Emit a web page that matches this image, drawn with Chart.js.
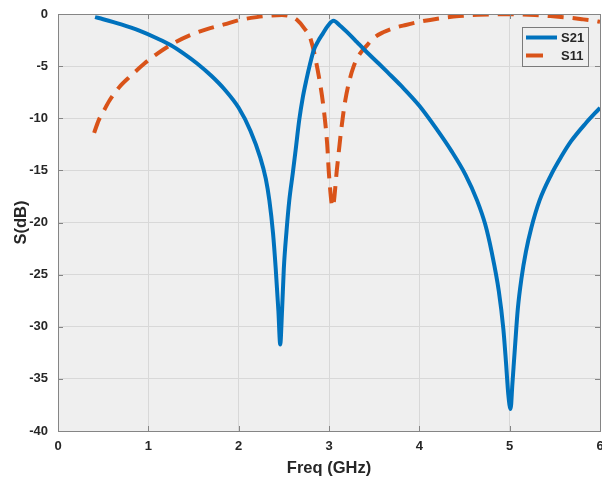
<!DOCTYPE html>
<html>
<head>
<meta charset="utf-8">
<script src="https://cdn.jsdelivr.net/npm/chart.js@4"></script>
<style>
  html, body { margin: 0; padding: 0; background: #fff; overflow: hidden; }
  #wrap { width: 612px; height: 479px; }
</style>
</head>
<body>
<div id="wrap"><canvas id="sparams" width="612" height="479"></canvas></div>
<script>
// values
const s21Freq = [0.41, 0.5, 0.7, 0.9, 1.1, 1.25, 1.4, 1.54, 1.7, 1.84, 2.0, 2.13, 2.24, 2.30, 2.34, 2.38,
  2.41, 2.44, 2.46, 2.48, 2.50, 2.53, 2.56, 2.60, 2.63, 2.67, 2.71, 2.75, 2.79, 2.83, 2.88, 2.93,
  2.99, 3.05, 3.12, 3.22, 3.31, 3.40, 3.55, 3.65, 3.8, 4.0, 4.18, 4.36, 4.51, 4.64, 4.73,
  4.80, 4.88, 4.93, 4.96, 4.985, 5.01, 5.03, 5.06, 5.09, 5.13, 5.18, 5.24, 5.33,
  5.46, 5.57, 5.68, 5.84, 6.0];
const s21dB = [-0.3, -0.5, -1.0, -1.6, -2.35, -3.0, -3.85, -4.75, -5.95, -7.2, -9.0, -11.2, -13.8, -15.8, -17.9, -21.0,
  -24.4, -28.5, -31.7, -28.5, -24.4, -20.8, -17.9, -15.2, -13.1, -10.2, -8.0, -6.3, -4.8, -3.5, -2.6, -1.9,
  -1.1, -0.65, -1.1, -1.9, -2.7, -3.5, -4.75, -5.6, -6.9, -8.8, -10.9, -13.2, -15.4, -17.9, -20.2,
  -22.8, -26.6, -30.2, -33.5, -36.5, -37.9, -35.5, -31.8, -28.3, -25.4, -22.8, -20.5, -17.9,
  -15.4, -13.7, -12.2, -10.5, -9.0];

const s11Freq = [0.40, 0.45, 0.5, 0.57, 0.68, 0.81, 0.95, 1.10, 1.28, 1.47, 1.65, 1.84, 2.0, 2.20, 2.35,
  2.48, 2.58, 2.65, 2.72, 2.80, 2.89, 2.94, 2.98, 3.00, 3.04, 3.09, 3.13, 3.18, 3.27, 3.44, 3.51,
  3.6, 3.7, 3.85, 4.0, 4.2, 4.44, 4.65, 4.89, 5.1, 5.28, 5.45, 5.65, 5.8, 5.94, 6.0];
const s11dB = [-11.4, -10.2, -9.4, -8.3, -7.0, -5.9, -4.8, -3.8, -2.8, -2.0, -1.45, -1.0, -0.6, -0.3, -0.15,
  -0.1, -0.25, -0.6, -1.3, -2.5, -6.1, -9.0, -12.5, -15.4, -18.5, -14.7, -11.5, -8.3, -5.1, -2.8, -2.2,
  -1.75, -1.4, -1.05, -0.75, -0.45, -0.2, -0.08, -0.02, -0.04, -0.1, -0.2, -0.35, -0.5, -0.66, -0.75];

const xTicks = [0, 1, 2, 3, 4, 5, 6];
const yTicks = [-40, -35, -30, -25, -20, -15, -10, -5, 0];

const BLUE = '#0072BD';
const ORANGE = '#D95319';
const TEXT = '#262626';
const FONT = '"Liberation Sans", Arial, sans-serif';

function toPoints(xs, ys) {
  return xs.map((x, i) => ({ x: x, y: ys[i] }));
}

// grey plot background, box, inward ticks and the legend box
const matlabAxes = {
  id: 'matlabAxes',
  beforeDraw(chart) {
    const a = chart.chartArea;
    const ctx = chart.ctx;
    ctx.save();
    ctx.fillStyle = '#efefef';
    ctx.fillRect(a.left, a.top, a.right - a.left, a.bottom - a.top);
    ctx.restore();
  },
  afterDraw(chart) {
    const a = chart.chartArea;
    const ctx = chart.ctx;
    const xs = chart.scales.x, ys = chart.scales.y;
    ctx.save();
    ctx.strokeStyle = '#858585';
    ctx.lineWidth = 1;
    ctx.beginPath();
    xTicks.forEach(v => {
      const px = Math.round(xs.getPixelForValue(v)) + 0.5;
      ctx.moveTo(px, a.bottom); ctx.lineTo(px, a.bottom - 5);
      ctx.moveTo(px, a.top); ctx.lineTo(px, a.top + 5);
    });
    yTicks.forEach(v => {
      const py = Math.round(ys.getPixelForValue(v)) + 0.5;
      ctx.moveTo(a.left, py); ctx.lineTo(a.left + 5, py);
      ctx.moveTo(a.right, py); ctx.lineTo(a.right - 5, py);
    });
    ctx.stroke();
    ctx.strokeRect(Math.round(a.left) + 0.5, Math.round(a.top) + 0.5,
      Math.round(a.right - a.left), Math.round(a.bottom - a.top));

    // legend
    const lx = 522, ly = 27, lw = 66, lh = 39;
    ctx.fillStyle = '#efefef';
    ctx.fillRect(lx, ly, lw, lh);
    ctx.strokeStyle = '#7a7a7a';
    ctx.strokeRect(lx + 0.5, ly + 0.5, lw, lh);
    ctx.lineWidth = 4;
    ctx.strokeStyle = BLUE;
    ctx.beginPath(); ctx.moveTo(526, 37.5); ctx.lineTo(557, 37.5); ctx.stroke();
    ctx.strokeStyle = ORANGE;
    ctx.beginPath(); ctx.moveTo(526, 55.5); ctx.lineTo(543, 55.5); ctx.stroke();
    ctx.fillStyle = TEXT;
    ctx.font = 'bold 13px ' + FONT;
    ctx.textBaseline = 'middle';
    ctx.textAlign = 'left';
    ctx.fillText('S21', 561, 38);
    ctx.fillText('S11', 561, 56);
    ctx.restore();
  }
};

const chart = new Chart(document.getElementById('sparams'), {
  type: 'line',
  data: {
    datasets: [{
      label: 'S21',
      data: toPoints(s21Freq, s21dB),
      borderColor: BLUE,
      borderWidth: 4,
      pointRadius: 0,
      cubicInterpolationMode: 'monotone',
      borderCapStyle: 'butt'
    }, {
      label: 'S11',
      data: toPoints(s11Freq, s11dB),
      borderColor: ORANGE,
      borderWidth: 4,
      borderDash: [16, 9],
      pointRadius: 0,
      cubicInterpolationMode: 'monotone',
      borderCapStyle: 'butt'
    }]
  },
  options: {
    responsive: false,
    animation: false,
    layout: { autoPadding: false, padding: { top: 14, right: 12, left: 0, bottom: 0 } },
    plugins: {
      legend: { display: false },
      tooltip: { enabled: false }
    },
    scales: {
      x: {
        type: 'linear',
        min: 0,
        max: 6,
        afterBuildTicks: s => { s.ticks = xTicks.map(v => ({ value: v })); },
        afterFit: s => { s.height = 48; s.paddingLeft = 0; s.paddingRight = 0; },
        grid: { color: '#d8d8d8', drawTicks: false },
        border: { display: false },
        ticks: { color: TEXT, padding: 8, maxRotation: 0, font: { family: FONT, size: 13, weight: 'bold' } },
        title: {
          display: true,
          text: 'Freq (GHz)',
          color: TEXT,
          padding: { top: 0, bottom: 1 },
          font: { family: FONT, size: 16.5, weight: 'bold' }
        }
      },
      y: {
        min: -40,
        max: 0,
        afterBuildTicks: s => { s.ticks = yTicks.map(v => ({ value: v })); },
        afterFit: s => { s.width = 58; s.paddingTop = 0; s.paddingBottom = 0; },
        grid: { color: '#d8d8d8', drawTicks: false },
        border: { display: false },
        ticks: { color: TEXT, padding: 10, font: { family: FONT, size: 13, weight: 'bold' } },
        title: {
          display: true,
          text: 'S(dB)',
          color: TEXT,
          padding: { top: 12, bottom: 0 },
          font: { family: FONT, size: 16.5, weight: 'bold' }
        }
      }
    }
  },
  plugins: [matlabAxes]
});
</script>
</body>
</html>
